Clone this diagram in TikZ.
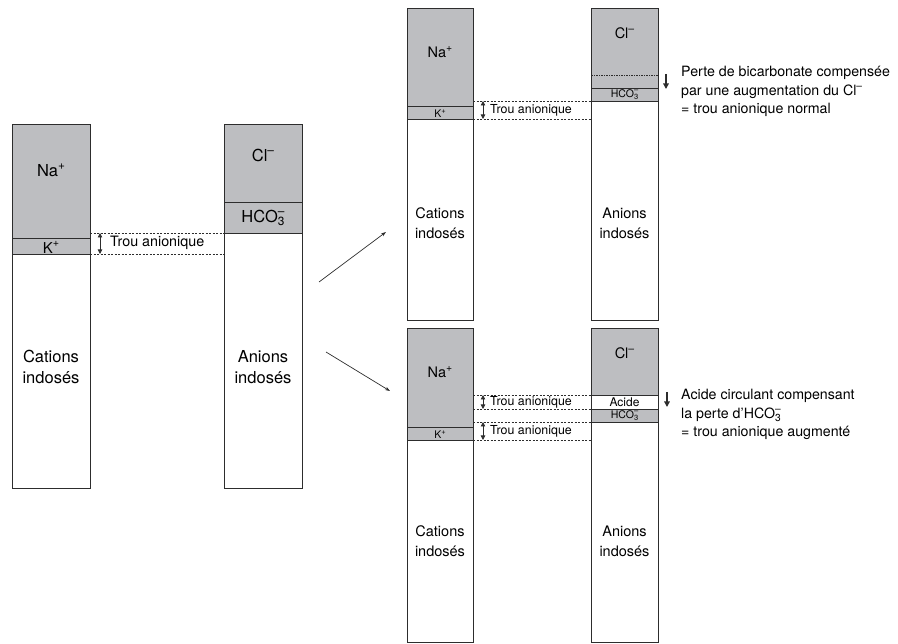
\documentclass[tikz,border=0pt]{standalone}
\usepackage{fontspec}
\setmainfont{TeX Gyre Heros}
\usetikzlibrary{arrows.meta}
\definecolor{boxgray}{RGB}{189,190,193}
\definecolor{linec}{RGB}{45,45,45}
\newcommand\supx[1]{\raisebox{0.42em}{\scalebox{0.72}{#1}}}
\newcommand\hcothree{HCO\rlap{\supx{–}}\raisebox{-0.22em}{\scalebox{0.72}{3}}}
\begin{document}
\begin{tikzpicture}[x=1pt,y=-1pt,
  seg/.style={draw=linec, line width=0.9pt, fill=boxgray, inner sep=0pt, outer sep=0pt, anchor=north west},
  wseg/.style={seg, fill=white},
  gapline/.style={draw=linec, line width=0.6pt, dash pattern=on 2pt off 1.5pt},
  ddline/.style={draw=linec, line width=0.6pt, dash pattern=on 2pt off 1.2pt on 0.6pt off 1.2pt},
  dbl/.style={draw=linec, line width=0.8pt, {Triangle[length=4.5pt,width=4.5pt]}-{Triangle[length=4.5pt,width=4.5pt]}},
  down/.style={draw=linec, line width=1.4pt, -{Triangle[length=5.5pt,width=5.5pt]}},
  trans/.style={draw=linec, line width=0.7pt, -{Stealth[length=5pt,width=3.5pt]}},
  bigf/.style={font=\fontsize{16.5}{21}\selectfont, align=center, inner sep=0pt},
  medf/.style={font=\fontsize{14.5}{20}\selectfont, align=center, inner sep=0pt},
  trouL/.style={font=\fontsize{14.3}{17}\selectfont, anchor=west, inner sep=0pt},
  trouR/.style={font=\fontsize{12.4}{15}\selectfont, anchor=west, inner sep=0pt},
  smallf/.style={font=\fontsize{10.5}{11}\selectfont, inner sep=0pt},
  descr/.style={font=\fontsize{14.2}{17}\selectfont, anchor=base west, inner sep=0pt}
]
\useasboundingbox (0,0) rectangle (898,644);

% ---------------- left panel ----------------
\node[seg,  minimum width=78pt, minimum height=114pt] (LNa) at (12,124) {};
\node[seg,  minimum width=78pt, minimum height=16pt]  (LK)  at (12,238) {};
\node[wseg, minimum width=78pt, minimum height=234pt] (LC)  at (12,254) {};
\node[seg,  minimum width=78pt, minimum height=78pt]  (LCl) at (224,124) {};
\node[seg,  minimum width=78pt, minimum height=31pt]  (LH)  at (224,202) {};
\node[wseg, minimum width=78pt, minimum height=255pt] (LAn) at (224,233) {};

\node[bigf] (tLNa) at (51,170) {Na\supx{+}};
\node[font=\fontsize{15}{16}\selectfont, inner sep=0pt] (tLK) at (51,247.5) {K\supx{+}};
\node[bigf] (tLCl) at (263,155) {Cl\supx{–}};
\node[bigf] (tLH) at (263,218) {\hcothree};
\node[bigf] (tLC) at (51,367) {Cations\\indosés};
\node[bigf] (tLAn) at (263,367) {Anions\\indosés};

\draw[gapline] (LNa.east |- LH.south west) -- (LH.south west);
\draw[gapline] (LK.south east) -- (LK.south east -| LAn.west);
\coordinate (la1) at (100,233);
\coordinate (la2) at (100,254);
\draw[dbl] (la1) -- (la2);
\node[trouL] (tLtrou) at (110,243) {Trou anionique};

% ---------------- transition arrows ----------------
\coordinate (ar1a) at (319,282);
\coordinate (ar1b) at (386,232);
\coordinate (ar2a) at (326,352);
\coordinate (ar2b) at (390,391);
\draw[trans] (ar1a) -- (ar1b);
\draw[trans] (ar2a) -- (ar2b);

% ---------------- top right panel ----------------
\node[seg,  minimum width=66pt, minimum height=98pt]  (TNa) at (407,8) {};
\node[seg,  minimum width=66pt, minimum height=13pt]  (TK)  at (407,106) {};
\node[wseg, minimum width=66pt, minimum height=201pt] (TC)  at (407,119) {};
\node[seg,  minimum width=67pt, minimum height=80pt]  (TCl) at (591,8) {};
\node[seg,  minimum width=67pt, minimum height=13pt]  (TH)  at (591,88) {};
\node[wseg, minimum width=67pt, minimum height=219pt] (TAn) at (591,101) {};

\coordinate (tdd) at (591,75);
\draw[ddline] (tdd) -- (tdd -| TCl.east);

\node[medf] (tTNa) at (440,52) {Na\supx{+}};
\node[smallf] (tTK) at (440,113.5) {K\supx{+}};
\node[medf] (tTCl) at (624.5,33) {Cl\supx{–}};
\node[smallf] (tTH) at (624.5,94.5) {\hcothree};
\node[medf] (tTC) at (440,223) {Cations\\indosés};
\node[medf] (tTAn) at (624.5,223) {Anions\\indosés};

\draw[gapline] (TNa.east |- TH.south west) -- (TH.south west);
\draw[gapline] (TK.south east) -- (TK.south east -| TAn.west);
\coordinate (ta1) at (483,101);
\coordinate (ta2) at (483,119);
\draw[dbl] (ta1) -- (ta2);
\node[trouR] (tTtrou) at (490,110) {Trou anionique};

\coordinate (td1) at (666,74);
\coordinate (td2) at (666,89);
\draw[down] (td1) -- (td2);
\node[descr] (tTd1) at (681,77) {Perte de bicarbonate compensée};
\node[descr] (tTd2) at (681,95.5) {par une augmentation du Cl\supx{–}};
\node[descr] (tTd3) at (681,114) {= trou anionique normal};

% ---------------- bottom right panel ----------------
\node[seg,  minimum width=66pt, minimum height=99pt]  (BNa) at (407,328) {};
\node[seg,  minimum width=66pt, minimum height=13pt]  (BK)  at (407,427) {};
\node[wseg, minimum width=66pt, minimum height=202pt] (BC)  at (407,440) {};
\node[seg,  minimum width=67pt, minimum height=67pt]  (BCl) at (591,328) {};
\node[wseg, minimum width=67pt, minimum height=14pt]  (BAc) at (591,395) {};
\node[seg,  minimum width=67pt, minimum height=13pt]  (BH)  at (591,409) {};
\node[wseg, minimum width=67pt, minimum height=220pt] (BAn) at (591,422) {};

\node[medf] (tBNa) at (440,372) {Na\supx{+}};
\node[smallf] (tBK) at (440,434.5) {K\supx{+}};
\node[medf] (tBCl) at (624.5,353) {Cl\supx{–}};
\node[font=\fontsize{12}{12}\selectfont, inner sep=0pt] (tBAc) at (624.5,402.5) {Acide};
\node[smallf] (tBH) at (624.5,415.5) {\hcothree};
\node[medf] (tBC) at (440,541) {Cations\\indosés};
\node[medf] (tBAn) at (624.5,541) {Anions\\indosés};

\draw[gapline] (BNa.east |- BAc.north west) -- (BAc.north west);
\draw[gapline] (BNa.east |- BH.north west) -- (BH.north west);
\draw[gapline] (BNa.east |- BH.south west) -- (BH.south west);
\draw[gapline] (BK.south east) -- (BK.south east -| BAn.west);
\coordinate (ba1) at (483,395);
\coordinate (ba2) at (483,409);
\coordinate (ba3) at (483,422);
\coordinate (ba4) at (483,440);
\draw[dbl] (ba1) -- (ba2);
\draw[dbl] (ba3) -- (ba4);
\node[trouR] (tBtrou1) at (490,402) {Trou anionique};
\node[trouR] (tBtrou2) at (490,431) {Trou anionique};

\coordinate (bd1) at (667,392);
\coordinate (bd2) at (667,407);
\draw[down] (bd1) -- (bd2);
\node[descr] (tBd1) at (681,400) {Acide circulant compensant};
\node[descr] (tBd2) at (681,418.5) {la perte d'\hcothree};
\node[descr] (tBd3) at (681,437) {= trou anionique augmenté};
\end{tikzpicture}
\end{document}
